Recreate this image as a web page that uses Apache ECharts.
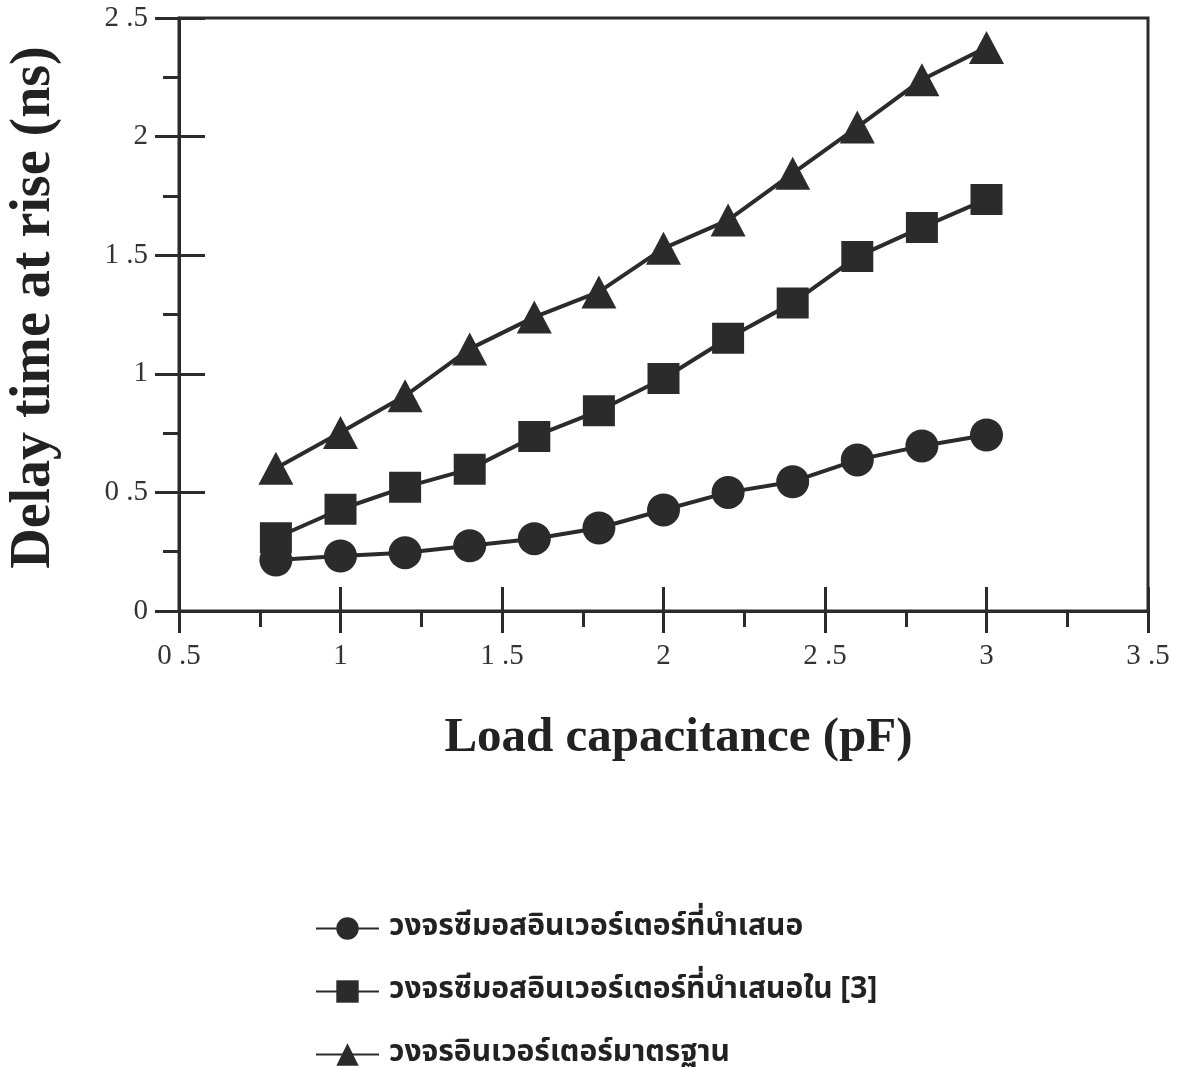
<!DOCTYPE html>
<html>
<head>
<meta charset="utf-8">
<title>Delay time at rise vs load capacitance</title>
<script src="https://cdn.jsdelivr.net/npm/echarts@6/dist/echarts.min.js"></script>
<style>
  html, body { margin: 0; padding: 0; background: #ffffff; }
  #chart { width: 1185px; height: 1069px; }
</style>
</head>
<body>
<div id="chart"></div>
<script>
// Load capacitance (pF)
const loadCap = [0.8, 1.0, 1.2, 1.4, 1.6, 1.8, 2.0, 2.2, 2.4, 2.6, 2.8, 3.0];

// Delay time at rise (ns)
const proposedCmos = [0.215, 0.232, 0.246, 0.275, 0.305, 0.350, 0.426, 0.500, 0.545, 0.637, 0.696, 0.742];
const cmosRef3 = [0.309, 0.429, 0.522, 0.598, 0.736, 0.844, 0.980, 1.150, 1.299, 1.494, 1.617, 1.735];
const standardInv = [0.602, 0.753, 0.907, 1.105, 1.239, 1.345, 1.529, 1.648, 1.845, 2.040, 2.240, 2.376];

const seriesNames = [
  'วงจรซีมอสอินเวอร์เตอร์ที่นำเสนอ',
  'วงจรซีมอสอินเวอร์เตอร์ที่นำเสนอใน [3]',
  'วงจรอินเวอร์เตอร์มาตรฐาน'
];

// Tick labels
const xTickLabels = { '0.5': '0 .5', '1': '1', '1.5': '1 .5', '2': '2', '2.5': '2 .5', '3': '3', '3.5': '3 .5' };
const yTickLabels = { '0': '0', '0.5': '0 .5', '1': '1', '1.5': '1 .5', '2': '2', '2.5': '2 .5' };

const ink = '#2b2b2b';
const serif = '"Liberation Serif", "Times New Roman", serif';

const chart = echarts.init(document.getElementById('chart'), null, { renderer: 'canvas' });

const pairs = ys => loadCap.map((x, i) => [x, ys[i]]);

function lineSeries(name, ys, symbol, size) {
  return {
    name: name,
    type: 'line',
    data: pairs(ys),
    symbol: symbol,
    symbolSize: size,
    showAllSymbol: true,
    lineStyle: { color: ink, width: 4 },
    itemStyle: { color: ink },
    emphasis: { disabled: true },
    animation: false,
    z: 5
  };
}

const tickStyle = { color: ink, width: 3 };

chart.setOption({
  backgroundColor: '#ffffff',
  animation: false,
  grid: {
    left: 179, right: 37, top: 18, bottom: 458,
    containLabel: false,
    outerBoundsMode: 'none',
    show: true,
    borderColor: ink,
    borderWidth: 3,
    backgroundColor: 'transparent'
  },
  legend: {
    orient: 'vertical',
    left: 315,
    top: 913,
    width: 700,
    height: 260,
    padding: 0,
    itemWidth: 63,
    itemHeight: 28,
    itemGap: 32,
    selectedMode: false,
    textStyle: {
      fontSize: 30,
      lineHeight: 28,
      fontWeight: 'bold',
      color: '#222',
      padding: [3, 0, 0, 5],
      fontFamily: '"Noto Sans Thai", "Noto Sans", sans-serif'
    },
    data: seriesNames
  },
  xAxis: [
    {
      type: 'value',
      position: 'bottom',
      min: 0.5, max: 3.5, interval: 0.5,
      name: 'Load capacitance (pF)',
      nameLocation: 'middle',
      nameGap: 103,
      nameTextStyle: {
        fontFamily: serif, fontWeight: 'bold', fontSize: 49, color: '#222',
        padding: [0, 0, 0, 30]
      },
      axisLine: { show: true, onZero: false, lineStyle: { color: ink, width: 3 } },
      axisTick: { show: true, inside: false, length: 22, lineStyle: tickStyle },
      minorTick: { show: true, splitNumber: 2, length: 16, lineStyle: tickStyle },
      splitLine: { show: false },
      axisLabel: {
        margin: 31,
        fontFamily: serif, fontSize: 29, color: '#333',
        formatter: v => xTickLabels[String(v)] ?? String(v)
      }
    },
    {
      type: 'value',
      position: 'bottom',
      min: 0.5, max: 3.5, interval: 0.5,
      axisLine: { show: false, onZero: false },
      axisTick: { show: true, inside: true, length: 24, lineStyle: tickStyle },
      splitLine: { show: false },
      axisLabel: { show: false }
    }
  ],
  yAxis: [
    {
      type: 'value',
      position: 'left',
      min: 0, max: 2.5, interval: 0.5,
      name: 'Delay time at rise (ns)',
      nameLocation: 'middle',
      nameGap: 116,
      nameTextStyle: {
        fontFamily: serif, fontWeight: 'bold', fontSize: 56, color: '#222',
        padding: [0, 0, 0, 14]
      },
      axisLine: { show: true, onZero: false, lineStyle: { color: ink, width: 3 } },
      axisTick: { show: true, inside: false, length: 24, lineStyle: tickStyle },
      minorTick: { show: true, splitNumber: 2, length: 16, lineStyle: tickStyle },
      splitLine: { show: false },
      axisLabel: {
        margin: 31,
        fontFamily: serif, fontSize: 29, color: '#333',
        formatter: v => yTickLabels[String(v)] ?? String(v)
      }
    },
    {
      type: 'value',
      position: 'left',
      min: 0, max: 2.5, interval: 0.5,
      axisLine: { show: false, onZero: false },
      axisTick: { show: true, inside: true, length: 26, lineStyle: tickStyle },
      splitLine: { show: false },
      axisLabel: { show: false }
    }
  ],
  series: [
    lineSeries(seriesNames[0], proposedCmos, 'circle', 33),
    lineSeries(seriesNames[1], cmosRef3, 'rect', [32, 31]),
    lineSeries(seriesNames[2], standardInv, 'triangle', [35, 33])
  ]
});
</script>
</body>
</html>
